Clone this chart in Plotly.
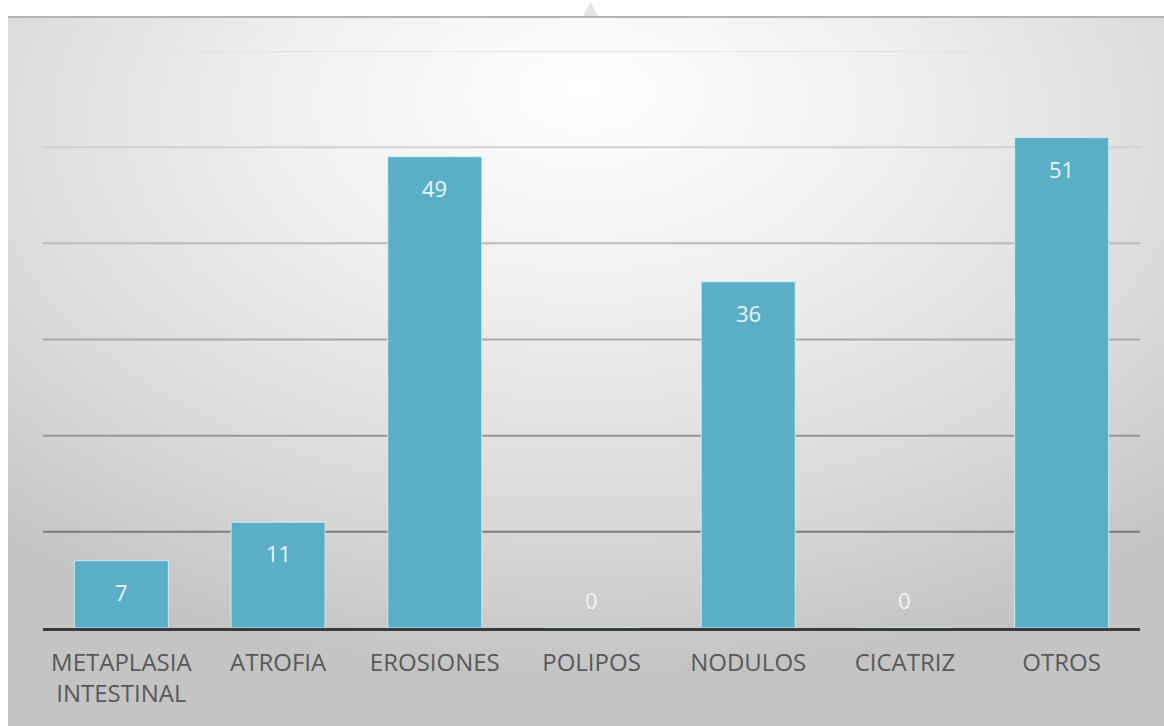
import base64
import plotly.graph_objects as go

categories = ["METAPLASIA<br>INTESTINAL", "ATROFIA", "EROSIONES", "POLIPOS", "NODULOS", "CICATRIZ", "OTROS"]
values = [7, 11, 49, 0, 36, 0, 51]
grid_values = [10, 20, 30, 40, 50, 60]
grid_colors = ["#7d7d7d", "#969696", "#a9a9a9", "#bcbcbc", "#d2d2d2", "#e3e3e3"]

W, H = 1164, 726
L, R, T, B = 43, 24, 51, 98
pw, ph = W - L - R, H - T - B

# background gradient card (pixels 8..1164 x 16..726)
svg = (
    '<svg xmlns="http://www.w3.org/2000/svg" width="1156" height="710" viewBox="0 0 1156 710" preserveAspectRatio="none">'
    '<defs><radialGradient id="g" cx="50%" cy="18%" r="75%" fx="50%" fy="10%">'
    '<stop offset="0" stop-color="#ffffff"/>'
    '<stop offset="0.35" stop-color="#f0f0f0"/>'
    '<stop offset="0.75" stop-color="#d8d8d8"/>'
    '<stop offset="1" stop-color="#c4c4c4"/>'
    '</radialGradient></defs>'
    '<rect width="1156" height="710" fill="url(#g)"/>'
    '<rect x="0" y="0" width="1156" height="2" fill="#b4b4b4"/>'
    '</svg>'
)
src = "data:image/svg+xml;base64," + base64.b64encode(svg.encode()).decode()

fig = go.Figure()
fig.add_trace(go.Bar(
    x=categories, y=values,
    marker=dict(color="#5aafc7", line=dict(color="rgba(210,240,248,0.9)", width=1)),
    width=0.6,
    hoverinfo="skip",
))

annotations = []
for c, v in zip(categories, values):
    annotations.append(dict(
        x=c, y=v, xref="x", yref="y", text=str(v), showarrow=False,
        yshift=(-31 if v > 0 else 28),
        font=dict(family="Open Sans", size=22, color="#e8f5f9" if v > 0 else "#f4f4f4"),
    ))

shapes = []
for gv, gc in zip(grid_values, grid_colors):
    shapes.append(dict(type="line", xref="paper", yref="y", x0=0, x1=1, y0=gv, y1=gv,
                       line=dict(color=gc, width=2), layer="below"))
# small triangle mark at top border
shapes.append(dict(type="path", xref="paper", yref="paper",
                   path="M %f %f L %f %f L %f %f Z" % (
                       (583 - L) / pw, (H - B - 16) / ph,
                       (598 - L) / pw, (H - B - 16) / ph,
                       (590.5 - L) / pw, (H - B - 2) / ph),
                   fillcolor="#e4e4e4", line=dict(width=0), layer="above"))

fig.update_layout(
    width=W, height=H,
    margin=dict(l=L, r=R, t=T, b=B),
    paper_bgcolor="white", plot_bgcolor="rgba(0,0,0,0)",
    showlegend=False,
    bargap=0.4,
    images=[dict(source=src, xref="paper", yref="paper",
                 x=(8 - L) / pw, y=(H - B - 16) / ph,
                 sizex=(W - 8) / pw, sizey=(H - 16) / ph,
                 xanchor="left", yanchor="top", sizing="stretch", layer="below")],
    shapes=shapes,
    annotations=annotations,
    xaxis=dict(showline=True, linecolor="#3a3a3a", linewidth=3, ticks="",
               ticklabelstandoff=11,
               tickfont=dict(family="Open Sans", size=24, color="#595959"),
               showgrid=False, fixedrange=True),
    yaxis=dict(range=[0, 60], showgrid=False, zeroline=False, showticklabels=False,
               fixedrange=True),
)

fig.write_html("out.html")
